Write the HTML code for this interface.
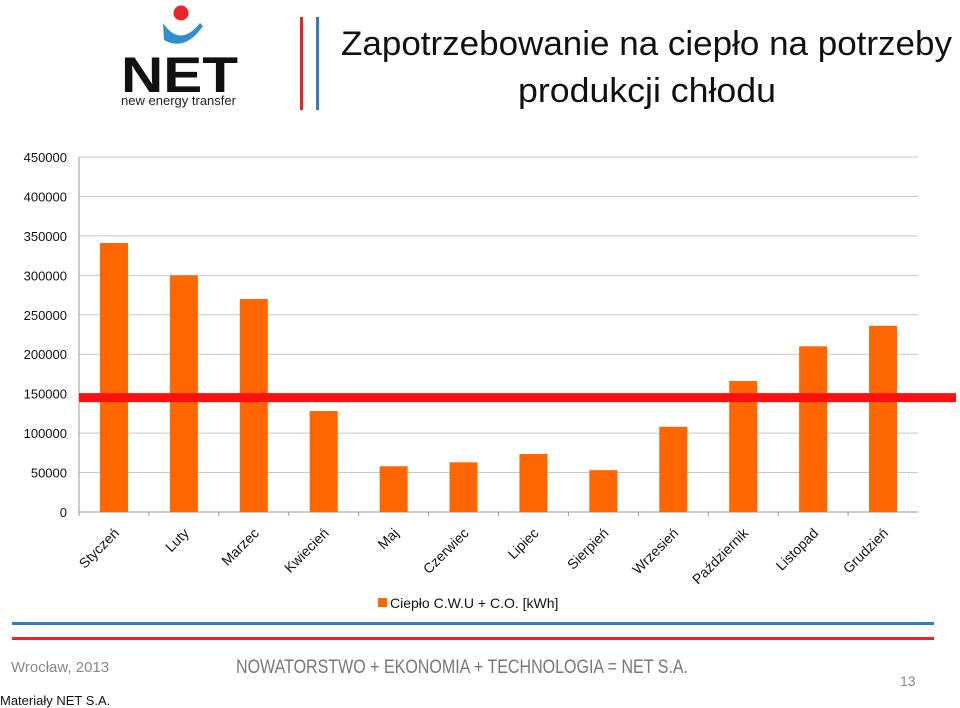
<!DOCTYPE html>
<html><head><meta charset="utf-8"><style>
html,body{margin:0;padding:0;background:#fff;}
svg{display:block;font-family:"Liberation Sans",sans-serif;}
</style></head><body>
<svg width="960" height="708" viewBox="0 0 960 708">
  <g>
    <circle cx="181" cy="13" r="7.5" fill="#e8262a"/>
    <path d="M163,23 Q180,48 200,23 L203,26 Q185,52 164,40 Z" fill="#2f8fd0"/>
    <text x="121" y="92" font-size="50" font-weight="bold" fill="#111" textLength="117" lengthAdjust="spacingAndGlyphs">NET</text>
    <text x="121" y="105" font-size="13" fill="#222" textLength="115" lengthAdjust="spacingAndGlyphs">new energy transfer</text>
  </g>
  <rect x="300" y="17" width="3" height="93" fill="#e8262a"/>
  <rect x="316" y="17" width="3" height="93" fill="#2f7dc8"/>
  <text x="341" y="55" font-size="34" fill="#111" textLength="611" lengthAdjust="spacingAndGlyphs">Zapotrzebowanie na ciepło na potrzeby</text>
  <text x="518" y="102" font-size="34" fill="#111" textLength="258" lengthAdjust="spacingAndGlyphs">produkcji chłodu</text>
  <g id="chart"></g>
  <g>
    <rect x="378" y="598" width="9" height="9" fill="#ff6600"/>
    <text x="390" y="608" font-size="14" fill="#111">Ciepło C.W.U + C.O. [kWh]</text>
  </g>
  <rect x="12" y="622" width="922" height="3" fill="#2f7dc8"/>
  <rect x="12" y="637" width="922" height="3" fill="#e8262a"/>
  <text x="11" y="672" font-size="15" fill="#888">Wrocław, 2013</text>
  <text x="236" y="673" font-size="19" fill="#777" textLength="452" lengthAdjust="spacingAndGlyphs">NOWATORSTWO + EKONOMIA + TECHNOLOGIA = NET S.A.</text>
  <text x="900" y="686" font-size="14" fill="#888">13</text>
  <text x="0" y="705" font-size="13" fill="#111">Materiały NET S.A.</text>
</svg>
<script>
const categories = ["Styczeń","Luty","Marzec","Kwiecień","Maj","Czerwiec","Lipiec","Sierpień","Wrzesień","Październik","Listopad","Grudzień"];
const values = [341000,300000,270000,128000,58000,63000,73500,53000,108000,166000,210000,236000];
const yTicks = [0,50000,100000,150000,200000,250000,300000,350000,400000,450000];
const thresholdValue = 145000;

const NS = "http://www.w3.org/2000/svg";
const g = document.getElementById("chart");
const x0 = 79, x1 = 918, y0 = 512, yTop = 157, yMax = 450000;
const band = (x1 - x0) / categories.length;
function yScale(v){ return y0 - (v / yMax) * (y0 - yTop); }
function xCenter(i){ return x0 + band * (i + 0.5); }
function mk(tag, attrs){ const e = document.createElementNS(NS, tag); for (const k in attrs) e.setAttribute(k, attrs[k]); g.appendChild(e); return e; }

yTicks.forEach(t => {
  const y = yScale(t);
  const l = mk("line", {x1: x0, x2: x1, y1: y, y2: y, stroke: t === 0 ? "#999" : "#c8c8c8", "stroke-width": 1});
  
  
  const tx = mk("text", {x: 67, y: y + 5, "font-size": 13, fill: "#111", "text-anchor": "end"});
  tx.textContent = String(t);
  
  
});
const ax = mk("line", {x1: x0, x2: x0, y1: yTop, y2: y0 + 4, stroke: "#999", "stroke-width": 1});



categories.forEach((c, i) => {
  const tk = mk("line", {x1: x0 + band * i, x2: x0 + band * i, y1: y0, y2: y0 + 4, stroke: "#999"});
  
  
  const cx = xCenter(i), bw = 28;
  const r = mk("rect", {x: cx - bw / 2, y: yScale(values[i]), width: bw, height: y0 - yScale(values[i]), fill: "#ff6600"});
  
  
  const lb = mk("text", {x: cx + 6, y: y0 + 22, "font-size": 14, fill: "#111", "text-anchor": "end", transform: `rotate(-45 ${cx + 6} ${y0 + 22})`});
  lb.textContent = c;
  
  
});

const ty = yScale(thresholdValue);
const th = mk("line", {x1: x0, x2: 956, y1: ty, y2: ty, stroke: "#ff1010", "stroke-width": 9});


</script>
</body></html>
